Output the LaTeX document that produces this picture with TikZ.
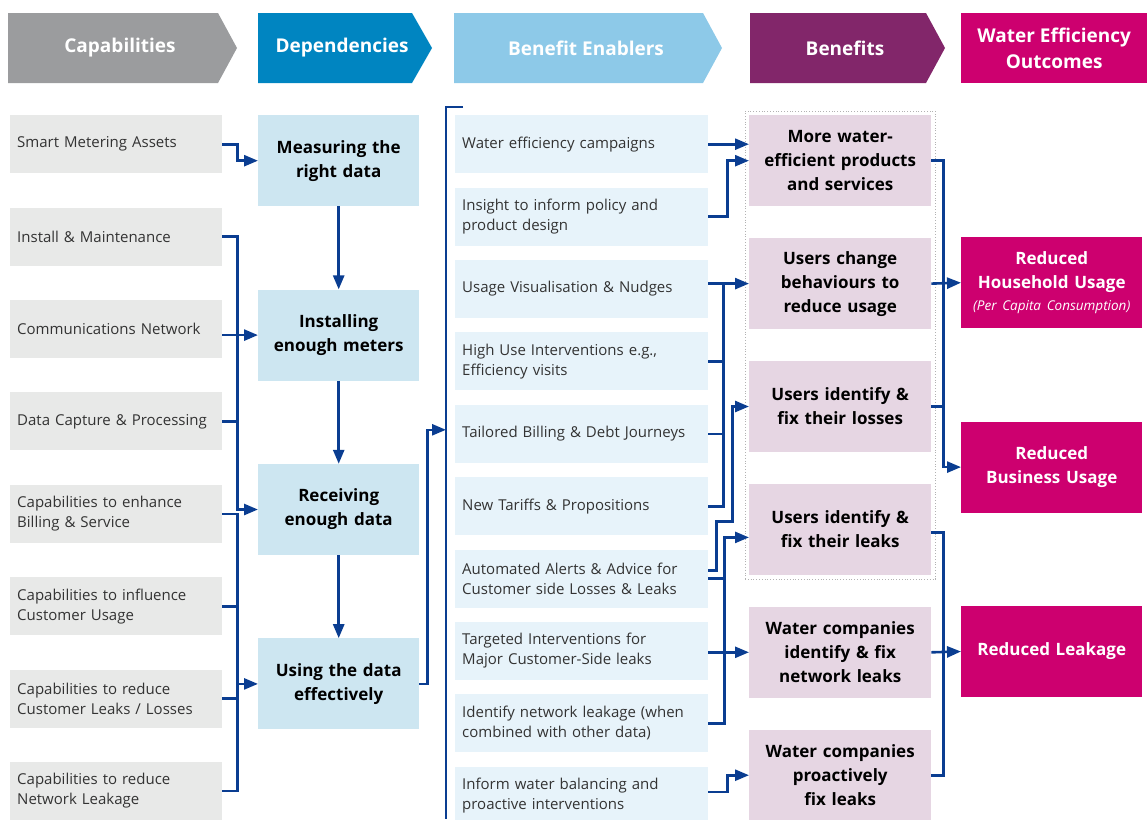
\documentclass[tikz,border=0pt]{standalone}
\usepackage{fontspec}
\setmainfont{Open Sans}
\usetikzlibrary{positioning,fit,arrows.meta}

\definecolor{capgrey}{HTML}{9B9C9E}
\definecolor{depblue}{HTML}{0085C1}
\definecolor{enblue}{HTML}{8DC9E8}
\definecolor{benpurple}{HTML}{82266A}
\definecolor{outpink}{HTML}{CD006F}
\definecolor{capfill}{HTML}{E8E9E8}
\definecolor{depfill}{HTML}{CDE6F1}
\definecolor{enfill}{HTML}{E7F3FA}
\definecolor{benfill}{HTML}{E6D6E3}
\definecolor{arrowblue}{HTML}{0A3D91}
\definecolor{textgrey}{HTML}{333333}

\begin{document}
\begin{tikzpicture}[%
        x=1pt, y=1pt,
        flow/.style={draw=arrowblue, line width=2.6pt,
          -{Triangle[length=14pt,width=11pt]}},
        link/.style={draw=arrowblue, line width=2.6pt},
        head/.style={text=white, font=\fontsize{19}{26}\selectfont\bfseries, align=center},
        capbox/.style={fill=capfill, text=textgrey, text width=198pt, inner xsep=7pt,
          minimum height=58pt, align=left, font=\fontsize{15}{20}\selectfont},
        enbox/.style={fill=enfill, text=textgrey, text width=239pt, inner xsep=7pt,
          minimum height=58pt, align=left, font=\fontsize{15}{20}\selectfont},
        depbox/.style={fill=depfill, text=black, text width=151pt, inner xsep=5pt,
          minimum height=91pt, align=center, font=\fontsize{17}{24}\selectfont\bfseries},
        benbox/.style={fill=benfill, text=black, text width=172pt, inner xsep=5pt,
          minimum height=91pt, align=center, font=\fontsize{17}{24}\selectfont\bfseries},
        outbox/.style={fill=outpink, text=white, text width=171pt, inner xsep=5pt,
          minimum height=91pt, align=center, font=\fontsize{17}{24}\selectfont\bfseries}
      ]
      \useasboundingbox (0,0) rectangle (1147,-819);

      % column headers
      \fill[capgrey] (8,-13) -- (218,-13) -- (237,-48) -- (218,-83) -- (8,-83) -- cycle;
      \fill[depblue] (258,-13) -- (412,-13) -- (432,-48) -- (412,-83) -- (258,-83) -- cycle;
      \fill[enblue] (454,-13) -- (703,-13) -- (722,-48) -- (703,-83) -- (454,-83) -- cycle;
      \fill[benpurple] (750,-13) -- (926,-13) -- (945,-48) -- (926,-83) -- (750,-83) -- cycle;
      \node[head] (h1) at (120,-48) {Capabilities};
      \node[head] (h2) at (342,-48) {Dependencies};
      \node[head] (h3) at (586,-48) {Benefit Enablers};
      \node[head] (h4) at (845,-48) {Benefits};
      \node[head, fill=outpink, minimum width=186pt, minimum height=70pt,
        anchor=north west, inner sep=0pt] (h5) at (961,-13) {Water Efficiency\\Outcomes};

      % capabilities
      \node[capbox, anchor=north west] (c1) at (10,-115) {Smart Metering Assets};
      \node[capbox, below=34pt of c1] (c2) {Install \& Maintenance};
      \node[capbox, below=34pt of c2] (c3) {Communications Network};
      \node[capbox, below=34pt of c3] (c4) {Data Capture \& Processing};
      \node[capbox, below=34pt of c4] (c5) {Capabilities to enhance\\Billing \& Service};
      \node[capbox, below=34pt of c5] (c6) {Capabilities to influence\\Customer Usage};
      \node[capbox, below=34pt of c6] (c7) {Capabilities to reduce\\Customer Leaks / Losses};
      \node[capbox, below=34pt of c7] (c8) {Capabilities to reduce\\Network Leakage};

      % dependencies
      \node[depbox, anchor=north west] (d1) at (258,-115) {Measuring the\\right data};
      \node[depbox, below=83pt of d1] (d2) {Installing\\enough meters};
      \node[depbox, below=83pt of d2] (d3) {Receiving\\enough data};
      \node[depbox, below=83pt of d3] (d4) {Using the data\\effectively};

      % benefit enablers
      \node[enbox, anchor=north west] (e1) at (455,-115) {Water efficiency campaigns};
      \node[enbox, below=14pt of e1] (e2) {Insight to inform policy and\\product design};
      \node[enbox, below=14pt of e2] (e3) {Usage Visualisation \& Nudges};
      \node[enbox, below=14pt of e3] (e4) {High Use Interventions e.g.,\\Efficiency visits};
      \node[enbox, below=14pt of e4] (e5) {Tailored Billing \& Debt Journeys};
      \node[enbox, below=14pt of e5] (e6) {New Tariffs \& Propositions};
      \node[enbox, below=14pt of e6] (e7) {Automated Alerts \& Advice for\\Customer side Losses \& Leaks};
      \node[enbox, below=14pt of e7] (e8) {Targeted Interventions for\\Major Customer-Side leaks};
      \node[enbox, below=14pt of e8] (e9) {Identify network leakage (when\\combined with other data)};
      \node[enbox, below=14pt of e9] (e10) {Inform water balancing and\\proactive interventions};

      % benefits
      \node[benbox, anchor=north west] (b1) at (749,-115) {More water-\\efficient products\\and services};
      \node[benbox, below=31.5pt of b1] (b2) {Users change\\behaviours to\\reduce usage};
      \node[benbox, below=31.5pt of b2] (b3) {Users identify \&\\fix their losses};
      \node[benbox, below=31.5pt of b3] (b4) {Users identify \&\\fix their leaks};
      \node[benbox, below=31.5pt of b4] (b5) {Water companies\\identify \& fix\\network leaks};
      \node[benbox, below=31.5pt of b5] (b6) {Water companies\\proactively\\fix leaks};
      \node[fit=(b1)(b4), inner sep=4pt, draw=gray!60, dotted, thick] (grp) {};

      % outcomes
      \node[outbox, anchor=north west] (o1) at (961,-237)
        {Reduced\\Household Usage\\[-2pt]{\fontsize{13.5}{18}\selectfont\mdseries\itshape (Per Capita Consumption)}};
      \node[outbox, below=93pt of o1] (o2) {Reduced\\Business Usage};
      \node[outbox, below=93pt of o2] (o3) {Reduced Leakage};

      % capabilities -> dependencies
      \draw[flow] (c1.east) -- ++(15,0) |- (d1.west);
      \draw[flow] (c2.east) -- ++(15,0) |- (d3.west);
      \draw[link] (c4.east) -- ++(15,0);
      \draw[flow] (c3.east |- d2.west) -- (d2.west);
      \draw[flow] (c5.east) -- ++(15,0) |- (d4.west);
      \draw[link] (c8.east) -| ([xshift=15pt]c5.east);
      \draw[link] (c6.east) -- ++(15,0);
      \draw[link] (c7.east) -- ++(15,0);

      \draw[flow] (d1) -- (d2);
      \draw[flow] (d2) -- (d3);
      \draw[flow] (d3) -- (d4);

      % dependencies -> enablers
      \coordinate (bar) at (446,-107);
      \draw[link] (463,-107) -- (bar) -- (446,-819);
      \draw[flow] (d4.east) -- ++(8,0) |- ([yshift=4pt]bar |- e5.west);

      % enablers -> benefits
      \draw[flow] (e1.east) -- (e1.east -| b1.west);
      \draw[flow] (e2.east) -- ++(19,0) |- (b1.west);
      \draw[flow] (e6.east) -- ++(15,0) |- (b2.west);
      \draw[link] (e3.east |- b2.west) -- ++(15,0);
      \draw[link] (e4.east) -- ++(15,0);
      \draw[link] (e5.east) -- ++(15,0);
      \draw[flow] ([yshift=8pt]e7.east) -- ++(8,0) -- ++(0,49) -- ++(16,0) |- (b3.west);
      \draw[flow] (e9.east) -- ++(16,0) |- ([yshift=-8pt]b4.west);
      \draw[link] (e7.east) -- ++(16,0);
      \draw[flow] (e8.east |- b5.west) -- (b5.west);
      \draw[flow] ([yshift=4pt]e10.east) -- ++(19,0) |- (b6.west);

      % benefits -> outcomes
      \draw[flow] (b1.east) -- ++(12,0) |- (o2.west);
      \draw[flow] (b2.east) -- (o1.west);
      \draw[link] (b3.east) -- ++(12,0);
      \draw[link] ([yshift=-3pt]b4.east) -- ++(12,0) |- (b6.east);
      \draw[flow] (b5.east) -- (o3.west);
  \end{tikzpicture}
\end{document}
